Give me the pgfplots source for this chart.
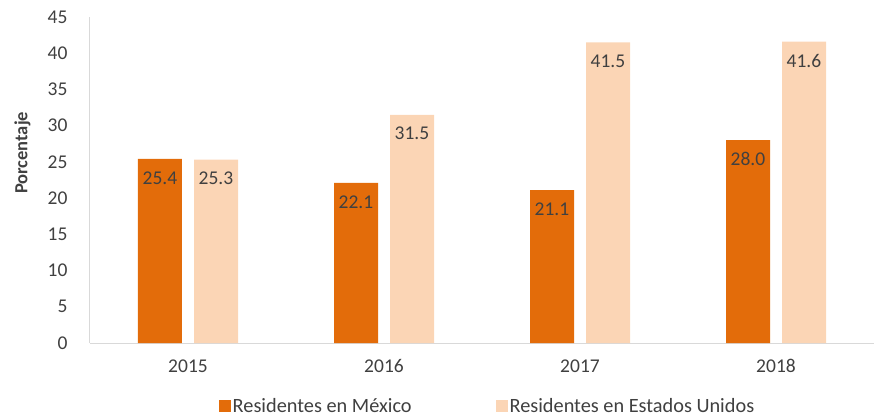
\documentclass[border=0pt]{standalone}
\usepackage{pgfplots}
\pgfplotsset{compat=1.18}
\usepackage{fontspec}
\setmainfont{Carlito}
\definecolor{mex}{HTML}{E36C0A}
\definecolor{usa}{HTML}{FBD5B5}
\definecolor{txt}{HTML}{404040}
\definecolor{axl}{HTML}{D9D9D9}
\begin{document}
\begin{tikzpicture}
\begin{axis}[
  name=ax,
  scale only axis,
  width=784bp, height=326bp,
  xmin=-0.5, xmax=3.5, ymin=0, ymax=45,
  axis x line=bottom, axis y line=left,
  axis line style={axl, line width=1bp, -},
  xtick={0,1,2,3}, xticklabels={2015,2016,2017,2018},
  ytick={0,5,...,45},
  major tick length=0pt,
  tick label style={font=\fontsize{19.5bp}{23bp}\selectfont, text=txt},
  /pgf/number format/assume math mode=true,
  yticklabel style={xshift=-19bp},
  xticklabel style={yshift=-13bp},
  ylabel={\textbf{Porcentaje}},
  ylabel style={font=\fontsize{18.5bp}{22bp}\selectfont, text=txt, at={(rel axis cs:0,0.583)}, anchor=south, yshift=56bp},
  ybar=12bp, bar width=44bp,
  nodes near coords,
  nodes near coords style={font=\fontsize{19.5bp}{23bp}\selectfont, text=txt, anchor=north, yshift=-9bp, /pgf/number format/.cd, fixed, fixed zerofill, precision=1},
  legend style={at={(0.507,-0.193)}, anchor=center, draw=none, fill=none,
    legend columns=2, font=\fontsize{20.3bp}{24bp}\selectfont, text=txt,
    cells={inner xsep=2bp},
    /tikz/every even column/.append style={column sep=82bp}},
  legend image code/.code={\fill[#1] (0bp,-6bp) rectangle (12bp,6bp);},
  legend cell align=left,
]
\addplot[fill=mex, draw=none] coordinates {(0,25.4) (1,22.1) (2,21.1) (3,28.0)};
\addplot[fill=usa, draw=none] coordinates {(0,25.3) (1,31.5) (2,41.5) (3,41.6)};
\legend{Residentes en México, Residentes en Estados Unidos}
\end{axis}
\pgfresetboundingbox
\path ([shift={(-90bp,-75bp)}]ax.south west) rectangle ([shift={(3bp,17bp)}]ax.north east);
\end{tikzpicture}
\end{document}
